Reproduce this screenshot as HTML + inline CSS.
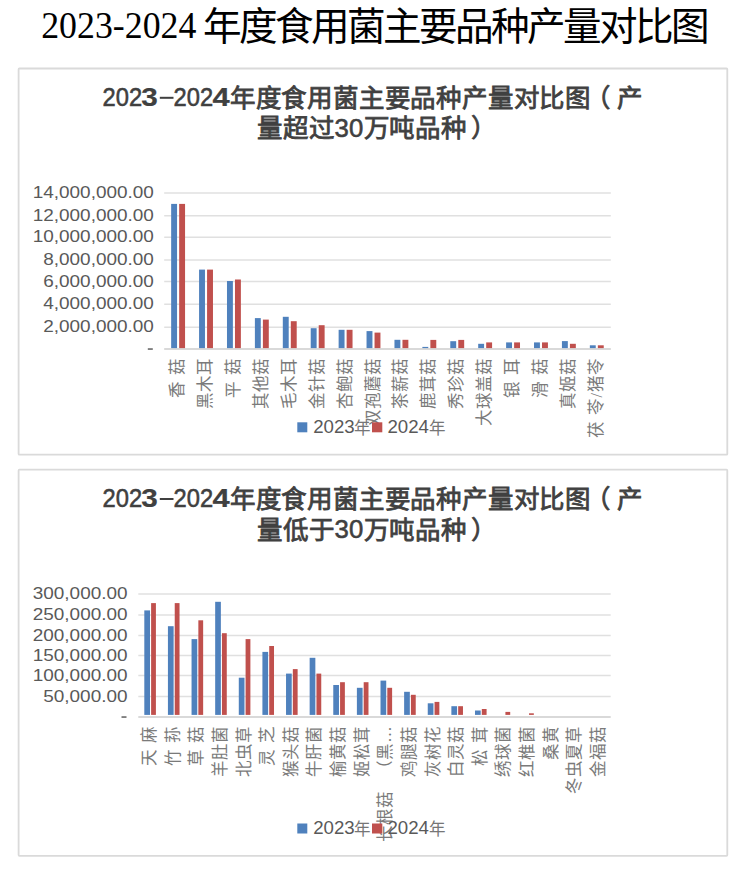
<!DOCTYPE html>
<html lang="zh-CN"><head><meta charset="utf-8"><title>2023-2024 年度食用菌主要品种产量对比图</title>
<style>html,body{margin:0;padding:0;background:#fff;width:746px;height:896px;overflow:hidden;font-family:"Liberation Sans",sans-serif}svg{display:block}</style>
</head><body>
<svg width="746" height="896" viewBox="0 0 746 896">
<rect width="746" height="896" fill="#fff"/>
<text x="41.2" y="37.6" font-family="Liberation Serif, serif" font-size="38" fill="#000" textLength="155.2" lengthAdjust="spacingAndGlyphs">2023-2024</text>
<text x="203.30 239.28 275.26 311.24 347.22 383.20 419.18 455.16 491.14 527.12 563.10 599.08 635.06 671.04" y="39.8" font-family="Liberation Sans, sans-serif" font-size="38.6" fill="#000">年度食用菌主要品种产量对比图</text>
<rect x="18.6" y="68.5" width="708.7" height="386.2" rx="0.8" fill="#fff" stroke="#dadada" stroke-width="1.8"/>
<g font-family="Liberation Sans, sans-serif" fill="#404040" stroke="#404040" stroke-width="0.55" font-size="26.1">
<text x="102.6" y="106.1" textLength="39.6" lengthAdjust="spacingAndGlyphs">202</text>
<text x="141.3" y="106.1" font-weight="bold" stroke-width="0.2" textLength="16.5" lengthAdjust="spacingAndGlyphs">3</text>
<rect x="159.8" y="96.8" width="13.7" height="2" stroke="none"/>
<text x="173.5" y="106.1" textLength="39.6" lengthAdjust="spacingAndGlyphs">202</text>
<text x="212.4" y="106.1" font-weight="bold" stroke-width="0.2" textLength="17.2" lengthAdjust="spacingAndGlyphs">4</text>
<text x="334.6" y="136.6" textLength="28.6" lengthAdjust="spacingAndGlyphs">30</text>
</g>
<g font-family="Liberation Serif, serif" fill="#404040" stroke="#404040" stroke-width="0.8" font-size="25.5">
<text x="229.80 255.60 281.40 307.20 333.00 358.80 384.60 410.40 436.20 462.00 487.80 513.60 539.40 565.20 584.50 616.80" y="107.0">年度食用菌主要品种产量对比图（产</text>
<text x="257.00 282.80 308.60" y="137.4" >量超过</text>
<text x="363.60 389.40 415.20 441.00 471.30" y="137.4">万吨品种）</text>
</g>
<line x1="164.2" x2="610.8" y1="349.00" y2="349.00" stroke="#d9d9d9" stroke-width="1.9"/>
<rect x="147.80" y="348.25" width="5" height="1.6" fill="#6a6a6a"/>
<line x1="164.2" x2="610.8" y1="327.20" y2="327.20" stroke="#e0e0e0" stroke-width="1.5"/>
<text x="153.9" y="332.30" text-anchor="end" font-family="Liberation Sans" font-size="16.4" fill="#595959" textLength="110.7" lengthAdjust="spacingAndGlyphs">2,000,000.00</text>
<line x1="164.2" x2="610.8" y1="304.20" y2="304.20" stroke="#e0e0e0" stroke-width="1.5"/>
<text x="153.9" y="309.30" text-anchor="end" font-family="Liberation Sans" font-size="16.4" fill="#595959" textLength="110.7" lengthAdjust="spacingAndGlyphs">4,000,000.00</text>
<line x1="164.2" x2="610.8" y1="281.50" y2="281.50" stroke="#e0e0e0" stroke-width="1.5"/>
<text x="153.9" y="286.60" text-anchor="end" font-family="Liberation Sans" font-size="16.4" fill="#595959" textLength="110.7" lengthAdjust="spacingAndGlyphs">6,000,000.00</text>
<line x1="164.2" x2="610.8" y1="260.10" y2="260.10" stroke="#e0e0e0" stroke-width="1.5"/>
<text x="153.9" y="265.20" text-anchor="end" font-family="Liberation Sans" font-size="16.4" fill="#595959" textLength="110.7" lengthAdjust="spacingAndGlyphs">8,000,000.00</text>
<line x1="164.2" x2="610.8" y1="237.30" y2="237.30" stroke="#e0e0e0" stroke-width="1.5"/>
<text x="153.9" y="242.40" text-anchor="end" font-family="Liberation Sans" font-size="16.4" fill="#595959" textLength="121.2" lengthAdjust="spacingAndGlyphs">10,000,000.00</text>
<line x1="164.2" x2="610.8" y1="215.80" y2="215.80" stroke="#e0e0e0" stroke-width="1.5"/>
<text x="153.9" y="220.90" text-anchor="end" font-family="Liberation Sans" font-size="16.4" fill="#595959" textLength="121.2" lengthAdjust="spacingAndGlyphs">12,000,000.00</text>
<line x1="164.2" x2="610.8" y1="193.00" y2="193.00" stroke="#e0e0e0" stroke-width="1.5"/>
<text x="153.9" y="198.10" text-anchor="end" font-family="Liberation Sans" font-size="16.4" fill="#595959" textLength="121.2" lengthAdjust="spacingAndGlyphs">14,000,000.00</text>
<rect x="171.16" y="203.90" width="5.9" height="144.20" fill="#4f81bd"/>
<rect x="179.16" y="203.90" width="5.9" height="144.20" fill="#c0504d"/>
<rect x="199.07" y="269.60" width="5.9" height="78.50" fill="#4f81bd"/>
<rect x="207.07" y="269.60" width="5.9" height="78.50" fill="#c0504d"/>
<rect x="226.98" y="281.00" width="5.9" height="67.10" fill="#4f81bd"/>
<rect x="234.98" y="279.50" width="5.9" height="68.60" fill="#c0504d"/>
<rect x="254.89" y="318.10" width="5.9" height="30.00" fill="#4f81bd"/>
<rect x="262.89" y="319.60" width="5.9" height="28.50" fill="#c0504d"/>
<rect x="282.81" y="316.80" width="5.9" height="31.30" fill="#4f81bd"/>
<rect x="290.81" y="321.20" width="5.9" height="26.90" fill="#c0504d"/>
<rect x="310.72" y="328.20" width="5.9" height="19.90" fill="#4f81bd"/>
<rect x="318.72" y="325.20" width="5.9" height="22.90" fill="#c0504d"/>
<rect x="338.63" y="329.80" width="5.9" height="18.30" fill="#4f81bd"/>
<rect x="346.63" y="329.80" width="5.9" height="18.30" fill="#c0504d"/>
<rect x="366.54" y="331.10" width="5.9" height="17.00" fill="#4f81bd"/>
<rect x="374.54" y="332.60" width="5.9" height="15.50" fill="#c0504d"/>
<rect x="394.46" y="339.80" width="5.9" height="8.30" fill="#4f81bd"/>
<rect x="402.46" y="339.80" width="5.9" height="8.30" fill="#c0504d"/>
<rect x="422.37" y="346.90" width="5.9" height="1.20" fill="#4f81bd"/>
<rect x="430.37" y="339.90" width="5.9" height="8.20" fill="#c0504d"/>
<rect x="450.28" y="341.20" width="5.9" height="6.90" fill="#4f81bd"/>
<rect x="458.28" y="339.90" width="5.9" height="8.20" fill="#c0504d"/>
<rect x="478.19" y="343.80" width="5.9" height="4.30" fill="#4f81bd"/>
<rect x="486.19" y="342.40" width="5.9" height="5.70" fill="#c0504d"/>
<rect x="506.11" y="342.40" width="5.9" height="5.70" fill="#4f81bd"/>
<rect x="514.11" y="342.40" width="5.9" height="5.70" fill="#c0504d"/>
<rect x="534.02" y="342.40" width="5.9" height="5.70" fill="#4f81bd"/>
<rect x="542.02" y="342.40" width="5.9" height="5.70" fill="#c0504d"/>
<rect x="561.93" y="341.10" width="5.9" height="7.00" fill="#4f81bd"/>
<rect x="569.93" y="343.80" width="5.9" height="4.30" fill="#c0504d"/>
<rect x="589.84" y="345.30" width="5.9" height="2.80" fill="#4f81bd"/>
<rect x="597.84" y="345.30" width="5.9" height="2.80" fill="#c0504d"/>
<g font-family="Liberation Serif, serif" font-size="16.5" fill="#7a7a7a">
<text transform="translate(177.66,358.30) rotate(-90)" text-anchor="end" dominant-baseline="central">香<tspan dx="1.8"> </tspan>菇</text>
<text transform="translate(205.57,358.30) rotate(-90)" text-anchor="end" dominant-baseline="central">黑木耳</text>
<text transform="translate(233.48,358.30) rotate(-90)" text-anchor="end" dominant-baseline="central">平<tspan dx="1.8"> </tspan>菇</text>
<text transform="translate(261.39,358.30) rotate(-90)" text-anchor="end" dominant-baseline="central">其他菇</text>
<text transform="translate(289.31,358.30) rotate(-90)" text-anchor="end" dominant-baseline="central">毛木耳</text>
<text transform="translate(317.22,358.30) rotate(-90)" text-anchor="end" dominant-baseline="central">金针菇</text>
<text transform="translate(345.13,358.30) rotate(-90)" text-anchor="end" dominant-baseline="central">杏鲍菇</text>
<text transform="translate(373.04,358.30) rotate(-90)" text-anchor="end" dominant-baseline="central">双孢蘑菇</text>
<text transform="translate(400.96,358.30) rotate(-90)" text-anchor="end" dominant-baseline="central">茶薪菇</text>
<text transform="translate(428.87,358.30) rotate(-90)" text-anchor="end" dominant-baseline="central">鹿茸菇</text>
<text transform="translate(456.78,358.30) rotate(-90)" text-anchor="end" dominant-baseline="central">秀珍菇</text>
<text transform="translate(484.69,358.30) rotate(-90)" text-anchor="end" dominant-baseline="central">大球盖菇</text>
<text transform="translate(512.61,358.30) rotate(-90)" text-anchor="end" dominant-baseline="central">银<tspan dx="1.8"> </tspan>耳</text>
<text transform="translate(540.52,358.30) rotate(-90)" text-anchor="end" dominant-baseline="central">滑<tspan dx="1.8"> </tspan>菇</text>
<text transform="translate(568.43,358.30) rotate(-90)" text-anchor="end" dominant-baseline="central">真姬菇</text>
<text transform="translate(596.34,358.30) rotate(-90)" text-anchor="end" dominant-baseline="central">茯<tspan dx="1.8"> </tspan>苓<tspan dx="0.3">/</tspan><tspan dx="0.5">猪</tspan>苓</text>
</g>
<rect x="297.3" y="422.3" width="10" height="10" fill="#4f81bd"/>
<rect x="372" y="422.3" width="10.3" height="10" fill="#c0504d"/>
<g font-family="Liberation Sans, sans-serif" font-size="17.5" fill="#595959">
<text x="313.2" y="432.90000000000003" textLength="41.5" lengthAdjust="spacingAndGlyphs">2023</text>
<text x="387.5" y="432.90000000000003" textLength="41.5" lengthAdjust="spacingAndGlyphs">2024</text>
<text x="354.2" y="433.90000000000003" font-size="16.5" fill="#767676">年</text>
<text x="429.3" y="433.90000000000003" font-size="16.5" fill="#767676">年</text>
</g>
<rect x="18.6" y="469.7" width="708.7" height="386.2" rx="0.8" fill="#fff" stroke="#dadada" stroke-width="1.8"/>
<g font-family="Liberation Sans, sans-serif" fill="#404040" stroke="#404040" stroke-width="0.55" font-size="26.1">
<text x="102.6" y="507.3" textLength="39.6" lengthAdjust="spacingAndGlyphs">202</text>
<text x="141.3" y="507.3" font-weight="bold" stroke-width="0.2" textLength="16.5" lengthAdjust="spacingAndGlyphs">3</text>
<rect x="159.8" y="498.0" width="13.7" height="2" stroke="none"/>
<text x="173.5" y="507.3" textLength="39.6" lengthAdjust="spacingAndGlyphs">202</text>
<text x="212.4" y="507.3" font-weight="bold" stroke-width="0.2" textLength="17.2" lengthAdjust="spacingAndGlyphs">4</text>
<text x="334.6" y="537.8" textLength="28.6" lengthAdjust="spacingAndGlyphs">30</text>
</g>
<g font-family="Liberation Serif, serif" fill="#404040" stroke="#404040" stroke-width="0.8" font-size="25.5">
<text x="229.80 255.60 281.40 307.20 333.00 358.80 384.60 410.40 436.20 462.00 487.80 513.60 539.40 565.20 584.50 616.80" y="508.2">年度食用菌主要品种产量对比图（产</text>
<text x="257.00 282.80 308.60" y="538.6" >量低于</text>
<text x="363.60 389.40 415.20 441.00 471.30" y="538.6">万吨品种）</text>
</g>
<line x1="138.3" x2="610.7" y1="717.00" y2="717.00" stroke="#d9d9d9" stroke-width="1.9"/>
<rect x="121.50" y="716.25" width="5" height="1.6" fill="#6a6a6a"/>
<line x1="138.3" x2="610.7" y1="696.60" y2="696.60" stroke="#e0e0e0" stroke-width="1.5"/>
<text x="127.6" y="701.70" text-anchor="end" font-family="Liberation Sans" font-size="16.4" fill="#595959" textLength="84.4" lengthAdjust="spacingAndGlyphs">50,000.00</text>
<line x1="138.3" x2="610.7" y1="675.50" y2="675.50" stroke="#e0e0e0" stroke-width="1.5"/>
<text x="127.6" y="680.60" text-anchor="end" font-family="Liberation Sans" font-size="16.4" fill="#595959" textLength="94.9" lengthAdjust="spacingAndGlyphs">100,000.00</text>
<line x1="138.3" x2="610.7" y1="655.40" y2="655.40" stroke="#e0e0e0" stroke-width="1.5"/>
<text x="127.6" y="660.50" text-anchor="end" font-family="Liberation Sans" font-size="16.4" fill="#595959" textLength="94.9" lengthAdjust="spacingAndGlyphs">150,000.00</text>
<line x1="138.3" x2="610.7" y1="635.40" y2="635.40" stroke="#e0e0e0" stroke-width="1.5"/>
<text x="127.6" y="640.50" text-anchor="end" font-family="Liberation Sans" font-size="16.4" fill="#595959" textLength="94.9" lengthAdjust="spacingAndGlyphs">200,000.00</text>
<line x1="138.3" x2="610.7" y1="615.10" y2="615.10" stroke="#e0e0e0" stroke-width="1.5"/>
<text x="127.6" y="620.20" text-anchor="end" font-family="Liberation Sans" font-size="16.4" fill="#595959" textLength="94.9" lengthAdjust="spacingAndGlyphs">250,000.00</text>
<line x1="138.3" x2="610.7" y1="594.10" y2="594.10" stroke="#e0e0e0" stroke-width="1.5"/>
<text x="127.6" y="599.20" text-anchor="end" font-family="Liberation Sans" font-size="16.4" fill="#595959" textLength="94.9" lengthAdjust="spacingAndGlyphs">300,000.00</text>
<rect x="144.31" y="610.40" width="5.7" height="104.50" fill="#4f81bd"/>
<rect x="151.11" y="603.10" width="4.8" height="111.80" fill="#c0504d"/>
<rect x="167.93" y="626.20" width="5.7" height="88.70" fill="#4f81bd"/>
<rect x="174.73" y="603.10" width="4.8" height="111.80" fill="#c0504d"/>
<rect x="191.55" y="639.10" width="5.7" height="75.80" fill="#4f81bd"/>
<rect x="198.35" y="620.30" width="4.8" height="94.60" fill="#c0504d"/>
<rect x="215.17" y="601.80" width="5.7" height="113.10" fill="#4f81bd"/>
<rect x="221.97" y="633.20" width="4.8" height="81.70" fill="#c0504d"/>
<rect x="238.79" y="677.70" width="5.7" height="37.20" fill="#4f81bd"/>
<rect x="245.59" y="639.10" width="4.8" height="75.80" fill="#c0504d"/>
<rect x="262.41" y="651.90" width="5.7" height="63.00" fill="#4f81bd"/>
<rect x="269.21" y="646.00" width="4.8" height="68.90" fill="#c0504d"/>
<rect x="286.03" y="673.60" width="5.7" height="41.30" fill="#4f81bd"/>
<rect x="292.83" y="669.10" width="4.8" height="45.80" fill="#c0504d"/>
<rect x="309.65" y="657.80" width="5.7" height="57.10" fill="#4f81bd"/>
<rect x="316.45" y="673.60" width="4.8" height="41.30" fill="#c0504d"/>
<rect x="333.27" y="685.00" width="5.7" height="29.90" fill="#4f81bd"/>
<rect x="340.07" y="682.20" width="4.8" height="32.70" fill="#c0504d"/>
<rect x="356.89" y="687.80" width="5.7" height="27.10" fill="#4f81bd"/>
<rect x="363.69" y="682.20" width="4.8" height="32.70" fill="#c0504d"/>
<rect x="380.51" y="680.60" width="5.7" height="34.30" fill="#4f81bd"/>
<rect x="387.31" y="687.80" width="4.8" height="27.10" fill="#c0504d"/>
<rect x="404.13" y="691.80" width="5.7" height="23.10" fill="#4f81bd"/>
<rect x="410.93" y="694.80" width="4.8" height="20.10" fill="#c0504d"/>
<rect x="427.75" y="703.30" width="5.7" height="11.60" fill="#4f81bd"/>
<rect x="434.55" y="701.90" width="4.8" height="13.00" fill="#c0504d"/>
<rect x="451.37" y="706.20" width="5.7" height="8.70" fill="#4f81bd"/>
<rect x="458.17" y="706.20" width="4.8" height="8.70" fill="#c0504d"/>
<rect x="474.99" y="710.50" width="5.7" height="4.40" fill="#4f81bd"/>
<rect x="481.79" y="709.00" width="4.8" height="5.90" fill="#c0504d"/>
<rect x="505.41" y="711.90" width="4.8" height="3.00" fill="#c0504d"/>
<rect x="529.03" y="713.30" width="4.8" height="1.60" fill="#c0504d"/>
<g font-family="Liberation Serif, serif" font-size="16.5" fill="#7a7a7a">
<text transform="translate(149.61,726.30) rotate(-90)" text-anchor="end" dominant-baseline="central">天<tspan dx="1.8"> </tspan>麻</text>
<text transform="translate(173.23,726.30) rotate(-90)" text-anchor="end" dominant-baseline="central">竹<tspan dx="1.8"> </tspan>荪</text>
<text transform="translate(196.85,726.30) rotate(-90)" text-anchor="end" dominant-baseline="central">草<tspan dx="1.8"> </tspan>菇</text>
<text transform="translate(220.47,726.30) rotate(-90)" text-anchor="end" dominant-baseline="central">羊肚菌</text>
<text transform="translate(244.09,726.30) rotate(-90)" text-anchor="end" dominant-baseline="central">北虫草</text>
<text transform="translate(267.71,726.30) rotate(-90)" text-anchor="end" dominant-baseline="central">灵<tspan dx="1.8"> </tspan>芝</text>
<text transform="translate(291.33,726.30) rotate(-90)" text-anchor="end" dominant-baseline="central">猴头菇</text>
<text transform="translate(314.95,726.30) rotate(-90)" text-anchor="end" dominant-baseline="central">牛肝菌</text>
<text transform="translate(338.57,726.30) rotate(-90)" text-anchor="end" dominant-baseline="central">榆黄菇</text>
<text transform="translate(362.19,726.30) rotate(-90)" text-anchor="end" dominant-baseline="central">姬松茸</text>
<text transform="translate(385.81,726.30) rotate(-90)" text-anchor="end" dominant-baseline="central">（黑…</text>
<text transform="translate(409.43,726.30) rotate(-90)" text-anchor="end" dominant-baseline="central">鸡腿菇</text>
<text transform="translate(433.05,726.30) rotate(-90)" text-anchor="end" dominant-baseline="central">灰树花</text>
<text transform="translate(456.67,726.30) rotate(-90)" text-anchor="end" dominant-baseline="central">白灵菇</text>
<text transform="translate(480.29,726.30) rotate(-90)" text-anchor="end" dominant-baseline="central">松<tspan dx="1.8"> </tspan>茸</text>
<text transform="translate(503.91,726.30) rotate(-90)" text-anchor="end" dominant-baseline="central">绣球菌</text>
<text transform="translate(527.53,726.30) rotate(-90)" text-anchor="end" dominant-baseline="central">红椎菌</text>
<text transform="translate(551.15,726.30) rotate(-90)" text-anchor="end" dominant-baseline="central">桑黄</text>
<text transform="translate(574.77,726.30) rotate(-90)" text-anchor="end" dominant-baseline="central">冬虫夏草</text>
<text transform="translate(598.39,726.30) rotate(-90)" text-anchor="end" dominant-baseline="central">金福菇</text>
<text transform="translate(385.81,791.00) rotate(-90)" text-anchor="end" dominant-baseline="central">长根菇</text>
</g>
<rect x="297.3" y="823.5" width="10" height="10" fill="#4f81bd"/>
<rect x="372" y="823.5" width="10.3" height="10" fill="#c0504d"/>
<g font-family="Liberation Sans, sans-serif" font-size="17.5" fill="#595959">
<text x="313.2" y="834.1" textLength="41.5" lengthAdjust="spacingAndGlyphs">2023</text>
<text x="387.5" y="834.1" textLength="41.5" lengthAdjust="spacingAndGlyphs">2024</text>
<text x="354.2" y="835.1" font-size="16.5" fill="#767676">年</text>
<text x="429.3" y="835.1" font-size="16.5" fill="#767676">年</text>
</g>
</svg>
</body></html>
